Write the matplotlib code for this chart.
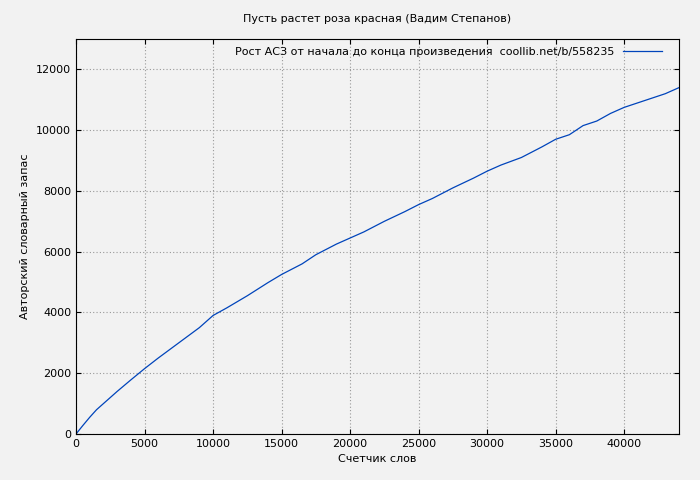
import matplotlib
matplotlib.use('Agg')
import matplotlib.pyplot as plt

words = [0, 500, 1000, 1500, 2000, 3000, 4000, 5000, 6000, 7500, 9000, 10000, 11000,
         12500, 14000, 15000, 16500, 17500, 19000, 20000, 21000, 22500, 24000, 25000,
         26000, 27500, 29000, 30000, 31000, 32500, 34000, 35000, 36000, 37000, 38000,
         39000, 40000, 41000, 42000, 43000, 44000]
vocab = [0, 280, 550, 800, 1000, 1400, 1780, 2150, 2500, 3000, 3500, 3900, 4150,
         4550, 4980, 5250, 5600, 5900, 6250, 6450, 6650, 7000, 7320, 7550,
         7750, 8100, 8420, 8650, 8850, 9100, 9450, 9700, 9850, 10150, 10300,
         10550, 10750, 10900, 11050, 11200, 11400]

plt.rcParams['font.family'] = ['DejaVu Sans']
plt.rcParams['font.size'] = 8

bg = '#f2f2f2'
fig = plt.figure(figsize=(7, 4.8), dpi=100, facecolor=bg)
ax = fig.add_axes([76/700, 1-434/480, 603/700, 395/480], facecolor=bg)
ax.plot(words, vocab, color='#0044bb', lw=0.9,
        label='Рост АСЗ от начала до конца произведения  coollib.net/b/558235')
ax.set_xlim(0, 44000)
ax.set_ylim(0, 13000)
ax.set_xticks(range(0, 44001, 5000))
ax.set_yticks(range(0, 12001, 2000))
ax.grid(True, color='#999999', linestyle=(0, (1, 2)), lw=0.8)
ax.tick_params(direction='in', top=True, right=True, labelsize=8)
ax.set_title('Пусть растет роза красная (Вадим Степанов)', fontsize=8, pad=12)
ax.set_xlabel('Счетчик слов', fontsize=8)
ax.set_ylabel('Авторский словарный запас', fontsize=8)
leg = ax.legend(loc='upper right', frameon=False, markerfirst=False, fontsize=8,
                handlelength=3.5, borderaxespad=0.3, bbox_to_anchor=(0.985, 1))
fig.savefig('out.png', dpi=100, facecolor=bg)
